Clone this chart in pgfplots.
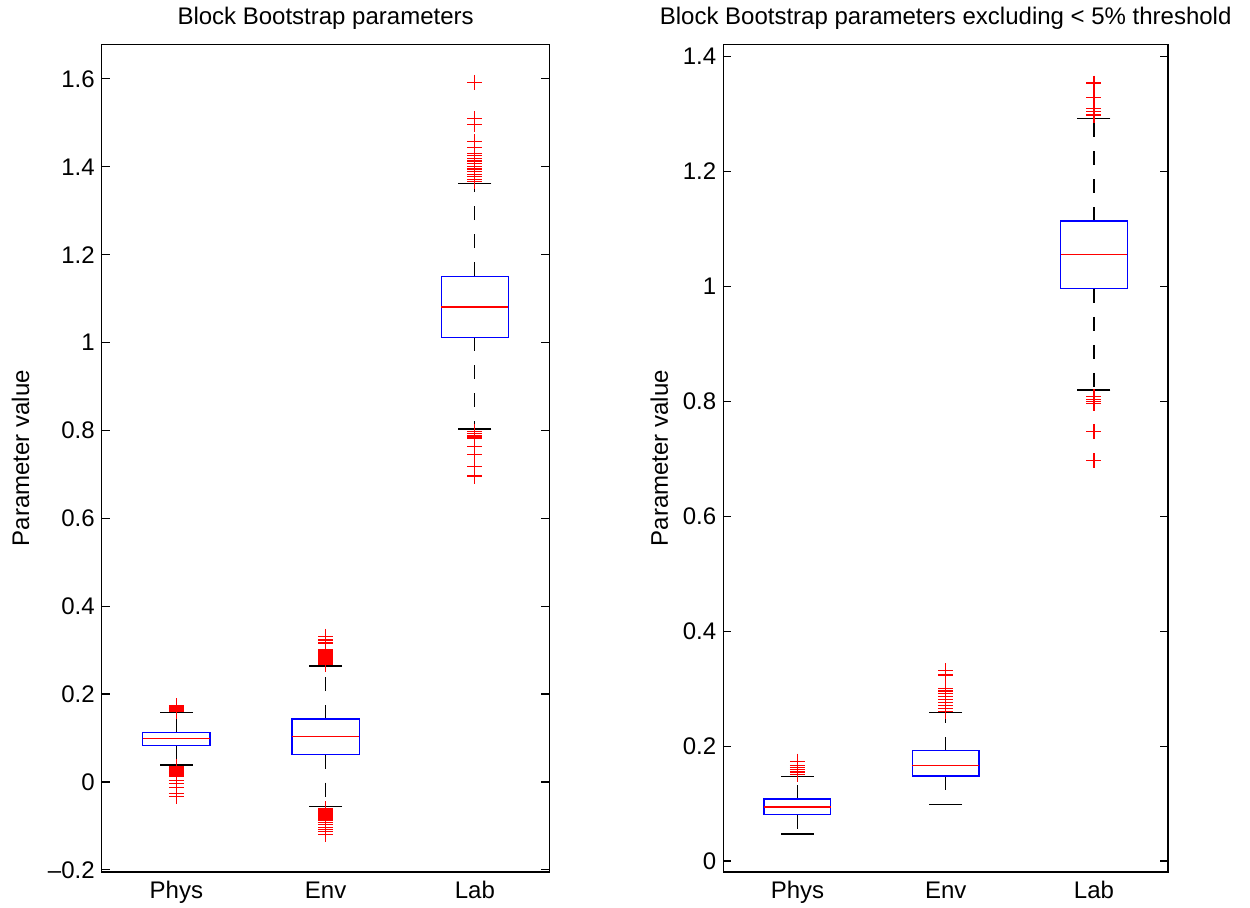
\documentclass[border=0pt]{standalone}
\usepackage{pgfplots}
\pgfplotsset{compat=1.18}
\usepackage{fontspec}
\setmainfont{Liberation Sans}
\pgfplotsset{
  mybox/.style={
    scale only axis,
    height=413.7pt,
    xmin=0.5, xmax=3.5,
    xtick={1,2,3}, xticklabels={Phys,Env,Lab},
    major x tick style={draw=none},
    tick align=inside, major tick length=4pt,
    ytick pos=both,
    axis line style={line width=0.7pt},
    every tick/.style={black, line width=0.6pt},
    /pgf/number format/assume math mode=true,
    tick label style={font=\fontsize{12}{14}\selectfont},
    label style={font=\fontsize{12}{14}\selectfont},
    title style={font=\fontsize{12}{14}\selectfont, anchor=base, at={(0.5,1)}, yshift=4pt},
    xticklabel style={anchor=base, yshift=-13pt},
    ylabel={Parameter value},
  },
  whisk/.style={black, line width=0.6pt, dash pattern=on 7pt off 7pt,
    mark=-, mark size=8.25pt, mark indices={2}, mark options={solid}},
  outl/.style={only marks, mark=+, mark size=3.75pt, red, line width=0.6pt},
}
% #1 position, #2 box left, #3 box right, #4 lower whisker, #5 lower quartile,
% #6 median, #7 upper quartile, #8 upper whisker
\newcommand\mybox[8]{%
  \addplot[whisk] coordinates {(#1,#7) (#1,#8)};
  \addplot[whisk] coordinates {(#1,#5) (#1,#4)};
  \addplot[blue, line width=0.6pt, line cap=rect]
    coordinates {(#2,#5) (#3,#5) (#3,#7) (#2,#7) (#2,#5)};
  \addplot[red, line width=0.6pt] coordinates {(#2,#6) (#3,#6)};
}
\begin{document}
\begin{tikzpicture}
\useasboundingbox (0,0) rectangle (625pt,453.5pt);
% ---------- left ----------
\begin{axis}[mybox,
  at={(50.85pt,17.5pt)}, anchor=south west,
  width=223.9pt,
  ymin=-0.205, ymax=1.678,
  ytick={-0.2,0,0.2,0.4,0.6,0.8,1,1.2,1.4,1.6},
  yticklabels={–0.2,0,0.2,0.4,0.6,0.8,1,1.2,1.4,1.6},
  title={Block Bootstrap parameters},
  ylabel style={at={(axis description cs:-0.181,0.5)}, anchor=center},
]
\mybox{1}{0.775}{1.225}{0.0387}{0.0835}{0.0985}{0.113}{0.158}
\mybox{2}{1.775}{2.225}{-0.056}{0.062}{0.103}{0.143}{0.264}
\mybox{3}{2.775}{3.225}{0.803}{1.012}{1.081}{1.151}{1.361}
\addplot[outl] coordinates {(1,0.160)(1,0.162)(1,0.164)(1,0.166)(1,0.168)(1,0.170)(1,0.173)
  (1,0.036)(1,0.033)(1,0.030)(1,0.027)(1,0.024)(1,0.021)(1,0.018)(1,0.015)(1,0.012)
  (1,0.003)(1,-0.004)(1,-0.012)(1,-0.026)(1,-0.033)};
\addplot[outl] coordinates {(2,0.267)(2,0.270)(2,0.273)(2,0.276)(2,0.279)(2,0.282)(2,0.285)
  (2,0.288)(2,0.291)(2,0.294)(2,0.297)(2,0.300)(2,0.316)(2,0.323)(2,0.331)
  (2,-0.061)(2,-0.064)(2,-0.067)(2,-0.070)(2,-0.073)(2,-0.076)(2,-0.079)(2,-0.082)
  (2,-0.085)(2,-0.088)(2,-0.092)(2,-0.096)(2,-0.103)(2,-0.109)(2,-0.113)(2,-0.119)};
\addplot[outl] coordinates {(3,1.592)(3,1.509)(3,1.497)(3,1.457)(3,1.444)(3,1.431)(3,1.425)(3,1.419)
  (3,1.413)(3,1.407)(3,1.401)(3,1.395)(3,1.389)(3,1.383)(3,1.377)(3,1.371)(3,1.366)
  (3,0.797)(3,0.793)(3,0.789)(3,0.785)(3,0.782)(3,0.763)(3,0.746)(3,0.718)(3,0.696)};
\end{axis}
% ---------- right ----------
\begin{axis}[mybox,
  at={(361.65pt,17.5pt)}, anchor=south west,
  width=222.4pt,
  ymin=-0.019, ymax=1.421,
  ytick={0,0.2,0.4,0.6,0.8,1,1.2,1.4},
  yticklabels={0,0.2,0.4,0.6,0.8,1,1.2,1.4},
  title={Block Bootstrap parameters excluding < 5\% threshold},
  ylabel style={at={(axis description cs:-0.144,0.5)}, anchor=center},
]
\mybox{1}{0.775}{1.225}{0.047}{0.081}{0.094}{0.108}{0.147}
\mybox{2}{1.775}{2.225}{0.098}{0.148}{0.167}{0.192}{0.259}
\mybox{3}{2.775}{3.225}{0.820}{0.996}{1.055}{1.114}{1.293}
\addplot[outl] coordinates {(1,0.174)(1,0.167)(1,0.163)(1,0.159)(1,0.155)(1,0.151)};
\addplot[outl] coordinates {(2,0.331)(2,0.324)(2,0.301)(2,0.296)(2,0.291)(2,0.286)(2,0.281)
  (2,0.276)(2,0.271)(2,0.266)(2,0.261)};
\addplot[outl] coordinates {(3,1.354)(3,1.329)(3,1.310)(3,1.305)(3,1.300)(3,1.297)
  (3,0.808)(3,0.804)(3,0.800)(3,0.796)(3,0.748)(3,0.697)};
\end{axis}
\end{tikzpicture}
\end{document}
